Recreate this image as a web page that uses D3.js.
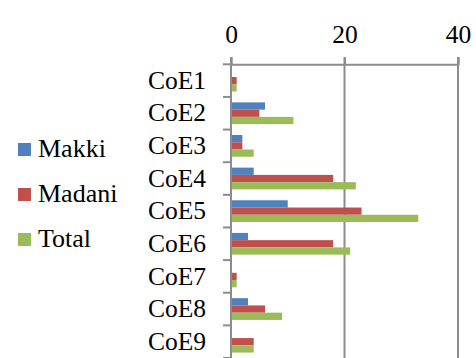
<!DOCTYPE html>
<html><head><meta charset="utf-8">
<script src="https://cdn.jsdelivr.net/npm/d3@7"></script>
<style>
html,body{margin:0;padding:0;background:#fff;}
svg{display:block;}
</style></head>
<body>
<svg id="chart" width="476" height="358" font-family="'Liberation Serif', 'Times New Roman', serif"></svg>
<script>
const categories = ["CoE1","CoE2","CoE3","CoE4","CoE5","CoE6","CoE7","CoE8","CoE9"];
const seriesNames = ["Makki","Madani","Total"];
const makki  = [0, 6, 2, 4, 10, 3, 0, 3, 0];
const madani = [1, 5, 2, 18, 23, 18, 1, 6, 4];
const total  = [1, 11, 4, 22, 33, 21, 1, 9, 4];
const xTicks = [0, 20, 40];
const colors = ["#4F81BD","#C0504D","#9BBB59"];

const FONT = "'Liberation Serif', 'Times New Roman', serif";
const seriesValues = [makki, madani, total];
const svg = d3.select("#chart");
const gridColor = "#8c8c8c";

const x = d3.scaleLinear().domain([0, 40]).range([231, 458]);
const y = d3.scaleBand().domain(categories).range([64.3, 358]).paddingInner(0).paddingOuter(0);
const bw = y.bandwidth();
const barH = bw / 4.5;
const ys = d3.scaleBand().domain(seriesNames).range([(bw - 3*barH)/2, (bw - 3*barH)/2 + 3*barH]);

// vertical gridlines
svg.append("g").selectAll("line").data(xTicks.filter(d => d !== 0)).join("line")
  .attr("x1", d => x(d)).attr("x2", d => x(d))
  .attr("y1", 57).attr("y2", 358)
  .attr("stroke", gridColor).attr("stroke-width", 2);

// bars
const data = [];
categories.forEach((c, i) => seriesNames.forEach((s, j) => data.push({c, s, v: seriesValues[j][i], j})));
svg.append("g").selectAll("rect").data(data).join("rect")
  .attr("x", x(0))
  .attr("y", d => y(d.c) + ys(d.s))
  .attr("width", d => x(d.v) - x(0))
  .attr("height", ys.bandwidth())
  .attr("fill", d => colors[d.j]);

// top value axis
const xAxis = d3.axisTop(x).tickValues(xTicks).tickSize(7).tickPadding(14).tickFormat(d3.format("d"));
const gx = svg.append("g").attr("transform", "translate(0,64.3)").call(xAxis);
gx.attr("font-family", FONT);
gx.select(".domain").attr("stroke", gridColor).attr("stroke-width", 2);
gx.selectAll(".tick line").attr("stroke", gridColor).attr("stroke-width", 2);
gx.selectAll(".tick text").attr("font-size", 25.5).attr("fill", "#000").attr("font-family", FONT);

// left category axis
const yAxis = d3.axisLeft(y).tickSize(0).tickPadding(25);
const gy = svg.append("g").attr("transform", `translate(${x(0)},0)`).call(yAxis);
gy.attr("font-family", FONT);
gy.select(".domain").remove();
gy.selectAll(".tick text").attr("font-size", 25.5).attr("fill", "#000").attr("font-family", FONT);

// axis line and boundary ticks
svg.append("line").attr("x1", x(0)).attr("x2", x(0)).attr("y1", 57).attr("y2", 358)
  .attr("stroke", gridColor).attr("stroke-width", 2);
const bounds = categories.map(c => y(c)).concat([y.range()[1]]);
svg.append("g").selectAll("line").data(bounds).join("line")
  .attr("x1", x(0) - 8).attr("x2", x(0))
  .attr("y1", d => d).attr("y2", d => d)
  .attr("stroke", gridColor).attr("stroke-width", 2);

// legend
const lg = svg.append("g").selectAll("g").data(seriesNames).join("g")
  .attr("transform", (d, i) => `translate(18,${143 + i*45})`);
lg.append("rect").attr("width", 13).attr("height", 13).attr("fill", (d, i) => colors[i]);
lg.append("text").attr("x", 20).attr("y", 13.5).text(d => d)
  .attr("font-size", 26).attr("font-family", FONT).attr("fill", "#000");
</script>
</body></html>
